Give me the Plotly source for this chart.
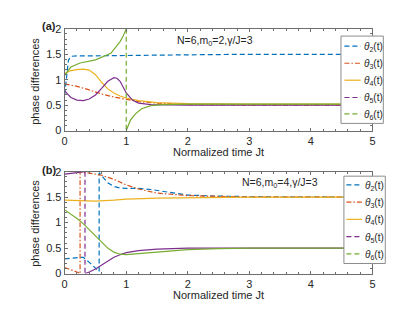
import plotly.graph_objects as go

# ---------------- data: panel (a)  N=6, m0=2 ----------------
a_t2_x = [0, 0.02, 0.04, 0.06, 0.1, 0.2, 0.5, 1.0, 2.0, 3.0, 5.0]
a_t2_y = [0.71, 0.95, 1.22, 1.38, 1.46, 1.47, 1.47, 1.48, 1.49, 1.50, 1.50]

a_t3_x = [0, 0.2, 0.4, 0.6, 0.8, 1.0, 1.2, 1.5, 2.0, 3.0, 5.0]
a_t3_y = [0.92, 0.87, 0.80, 0.72, 0.66, 0.61, 0.57, 0.54, 0.51, 0.50, 0.50]

a_t4_x = [0, 0.1, 0.2, 0.3, 0.4, 0.5, 0.6, 0.7, 0.8, 0.9, 1.0, 1.2, 1.5, 2.0, 3.0, 5.0]
a_t4_y = [1.12, 1.18, 1.20, 1.21, 1.19, 1.10, 0.95, 0.82, 0.74, 0.68, 0.64, 0.59, 0.55, 0.53, 0.52, 0.52]

a_t5_x = [0, 0.1, 0.2, 0.3, 0.4, 0.5, 0.6, 0.7, 0.8, 0.85, 0.9, 0.95, 1.0, 1.1, 1.2, 1.4, 1.7, 2.0, 3.0, 5.0]
a_t5_y = [0.78, 0.65, 0.60, 0.59, 0.62, 0.70, 0.83, 0.97, 1.04, 1.03, 0.97, 0.86, 0.74, 0.60, 0.54, 0.51, 0.50, 0.50, 0.50, 0.50]

# theta6 wraps at t=1: branch before and after the jump
a_t6_x1 = [0, 0.1, 0.25, 0.5, 0.75, 0.9, 0.95, 1.0]
a_t6_y1 = [1.09, 1.25, 1.33, 1.39, 1.52, 1.75, 1.86, 2.0]
a_t6_x2 = [1.0, 1.07, 1.15, 1.25, 1.4, 1.6, 2.0, 3.0, 5.0]
a_t6_y2 = [0.0, 0.21, 0.33, 0.43, 0.49, 0.51, 0.52, 0.52, 0.52]

# ---------------- data: panel (b)  N=6, m0=4 ----------------
b_t2_x = [0, 0.1, 0.2, 0.3, 0.4, 0.5, 0.56, 0.56, 0.6, 0.7, 0.8, 0.9, 1.0, 1.2, 1.4, 1.6, 2.0, 2.5, 3.0, 5.0]
b_t2_y = [0.29, 0.30, 0.31, 0.32, 0.22, 0.10, 0.04, 1.98, 1.92, 1.78, 1.71, 1.68, 1.67, 1.67, 1.65, 1.61, 1.54, 1.52, 1.51, 1.50]

b_t3_x = [0, 0.1, 0.2, 0.25, 0.25, 0.4, 0.6, 0.8, 1.0, 1.2, 1.5, 2.0, 2.5, 3.0, 5.0]
b_t3_y = [0.12, 0.08, 0.03, 0.0, 2.0, 1.97, 1.93, 1.85, 1.74, 1.66, 1.58, 1.53, 1.51, 1.50, 1.50]

b_t4_x = [0, 0.3, 0.5, 0.8, 1.0, 1.5, 2.0, 3.0, 5.0]
b_t4_y = [1.44, 1.43, 1.42, 1.44, 1.46, 1.48, 1.49, 1.50, 1.50]

b_t5_x1 = [0, 0.1, 0.2, 0.33]
b_t5_y1 = [1.95, 1.96, 1.98, 2.0]
b_t5_x2 = [0.33, 0.4, 0.5, 0.6, 0.7, 0.8, 0.9, 1.0, 1.2, 1.5, 2.0, 5.0]
b_t5_y2 = [0.0, 0.03, 0.09, 0.17, 0.25, 0.32, 0.37, 0.41, 0.45, 0.48, 0.50, 0.50]

b_t6_x = [0, 0.1, 0.2, 0.3, 0.4, 0.5, 0.6, 0.7, 0.8, 0.9, 1.0, 1.2, 1.5, 2.0, 2.5, 3.0, 5.0]
b_t6_y = [1.25, 1.17, 1.08, 0.98, 0.86, 0.73, 0.60, 0.50, 0.42, 0.38, 0.37, 0.39, 0.43, 0.47, 0.49, 0.50, 0.50]

x_ticks = [0, 1, 2, 3, 4, 5]
y_ticks = [0, 0.5, 1, 1.5, 2]
y_ticklabels = ["0", "0.5", "1", "1.5", "2"]

names = ["<i>θ</i><sub>2</sub>(t)", "<i>θ</i><sub>3</sub>(t)", "<i>θ</i><sub>4</sub>(t)",
         "<i>θ</i><sub>5</sub>(t)", "<i>θ</i><sub>6</sub>(t)"]
colors = ["#0072BD", "#D95319", "#EDB120", "#7E2F8E", "#77AC30"]
DASH = "5px,3px"
DASHDOT = "5px,2px,1.5px,2px"
legend_dash = [DASH, DASHDOT, "solid", DASH, DASH]
LW = 1.2

fig = go.Figure()


def add(x, y, color, dash, xa, ya, name):
    fig.add_trace(go.Scatter(x=x, y=y, mode="lines", xaxis=xa, yaxis=ya,
                             line=dict(color=color, width=LW, dash=dash),
                             name=name, showlegend=False, hoverinfo="skip"))


# panel (a)
add(a_t2_x, a_t2_y, colors[0], DASH, "x", "y", names[0])
add(a_t3_x, a_t3_y, colors[1], DASHDOT, "x", "y", names[1])
add(a_t4_x, a_t4_y, colors[2], "solid", "x", "y", names[2])
add(a_t5_x, a_t5_y, colors[3], "solid", "x", "y", names[3])
add(a_t6_x1 + [None] + a_t6_x2, a_t6_y1 + [None] + a_t6_y2, colors[4], "solid", "x", "y", names[4])
add([a_t6_x1[-1], a_t6_x2[0]], [a_t6_y1[-1], a_t6_y2[0]], colors[4], DASH, "x", "y", names[4])

# panel (b)
add(b_t2_x, b_t2_y, colors[0], DASH, "x2", "y2", names[0])
add(b_t3_x, b_t3_y, colors[1], DASHDOT, "x2", "y2", names[1])
add(b_t4_x, b_t4_y, colors[2], "solid", "x2", "y2", names[2])
add(b_t5_x1 + [None] + b_t5_x2, b_t5_y1 + [None] + b_t5_y2, colors[3], "solid", "x2", "y2", names[3])
add([b_t5_x1[-1], b_t5_x2[0]], [b_t5_y1[-1], b_t5_y2[0]], colors[3], DASH, "x2", "y2", names[3])
add(b_t6_x, b_t6_y, colors[4], "solid", "x2", "y2", names[4])

# page body has an 8px margin: figure is sized/positioned to compensate
OFF = 8
W, H = 415 - 2 * OFF, 313 - 2 * OFF
FONT = "Liberation Sans, Arial, sans-serif"
AX = "#6e6e6e"
TXT = "#262626"


def px(x):
    return (x - OFF) / W


def py(y):
    return 1 - (y - OFF) / H


xl, xr = px(62.5), px(375)
a_top, a_bot = py(23.5), py(129.5)
b_top, b_bot = py(172.3), py(278.5)

common_x = dict(range=[0, 5], tickvals=x_ticks, ticks="inside", ticklen=3, tickcolor=AX,
                showline=True, linecolor=AX, linewidth=1, mirror="ticks", showgrid=False,
                zeroline=False, tickfont=dict(size=11, color=TXT, family=FONT),
                minor=dict(dtick=0.2, ticks="inside", ticklen=2, tickcolor=AX),
                domain=[xl, xr])
common_y = dict(range=[0, 2], tickvals=y_ticks, ticktext=y_ticklabels, ticks="inside", ticklen=3,
                tickcolor=AX, showline=True, linecolor=AX, linewidth=1, mirror="ticks",
                showgrid=False, zeroline=False,
                tickfont=dict(size=11, color=TXT, family=FONT),
                minor=dict(dtick=0.1, ticks="inside", ticklen=2, tickcolor=AX))

fig.update_layout(
    width=W, height=H, margin=dict(l=0, r=0, t=0, b=0),
    paper_bgcolor="white", plot_bgcolor="white",
    font=dict(family=FONT, size=11, color=TXT),
    showlegend=False,
    xaxis=dict(common_x, anchor="y"),
    yaxis=dict(common_y, domain=[a_bot, a_top], anchor="x"),
    xaxis2=dict(common_x, anchor="y2"),
    yaxis2=dict(common_y, domain=[b_bot, b_top], anchor="x2"),
)

# legend boxes (drawn like the reference's boxed legends)
legend_boxes = [
    dict(x0=343, x1=386, y0=31, y1=122, rows=[41.5, 59.3, 77, 95, 112], lx0=346.5, lx1=363, tx=364),
    dict(x0=346, x1=388, y0=177, y1=268, rows=[186, 204, 222, 240, 258], lx0=348.5, lx1=364.5, tx=365.5),
]
for box in legend_boxes:
    fig.add_shape(type="rect", xref="paper", yref="paper",
                  x0=px(box["x0"]), x1=px(box["x1"]), y0=py(box["y1"]), y1=py(box["y0"]),
                  line=dict(color="#8c8c8c", width=1), fillcolor="white", layer="above")
    for i, ry in enumerate(box["rows"]):
        fig.add_shape(type="line", xref="paper", yref="paper",
                      x0=px(box["lx0"]), x1=px(box["lx1"]), y0=py(ry), y1=py(ry),
                      line=dict(color=colors[i], width=LW, dash=legend_dash[i]), layer="above")
        fig.add_annotation(text=names[i], xref="paper", yref="paper", x=px(box["tx"]), y=py(ry + 1),
                           xanchor="left", yanchor="middle", showarrow=False,
                           font=dict(size=10, family=FONT, color=TXT))

for txt, yy in [("<b>(a)</b>", 20), ("<b>(b)</b>", 171)]:
    fig.add_annotation(text=txt, xref="paper", yref="paper", x=px(37), y=py(yy),
                       xanchor="left", yanchor="middle", showarrow=False,
                       font=dict(size=11, family=FONT, color=TXT))

fig.add_annotation(text="N=6,m<sub>0</sub>=2,γ/J=3", xref="paper", yref="paper",
                   x=px(175), y=py(36), xanchor="left", yanchor="middle", showarrow=False,
                   font=dict(size=10.5, family=FONT, color=TXT))
fig.add_annotation(text="N=6,m<sub>0</sub>=4,γ/J=3", xref="paper", yref="paper",
                   x=px(240), y=py(184), xanchor="left", yanchor="middle", showarrow=False,
                   font=dict(size=10.5, family=FONT, color=TXT))

for yc in [152, 301]:
    fig.add_annotation(text="Normalized time Jt", xref="paper", yref="paper",
                       x=(xl + xr) / 2, y=py(yc), xanchor="center", yanchor="middle", showarrow=False,
                       font=dict(size=11, family=FONT, color=TXT))
for yc in [78, 226]:
    fig.add_annotation(text="phase differences", xref="paper", yref="paper", textangle=-90,
                       x=px(33), y=py(yc), xanchor="center", yanchor="middle", showarrow=False,
                       font=dict(size=11, family=FONT, color=TXT))

fig.write_html("out.html")
